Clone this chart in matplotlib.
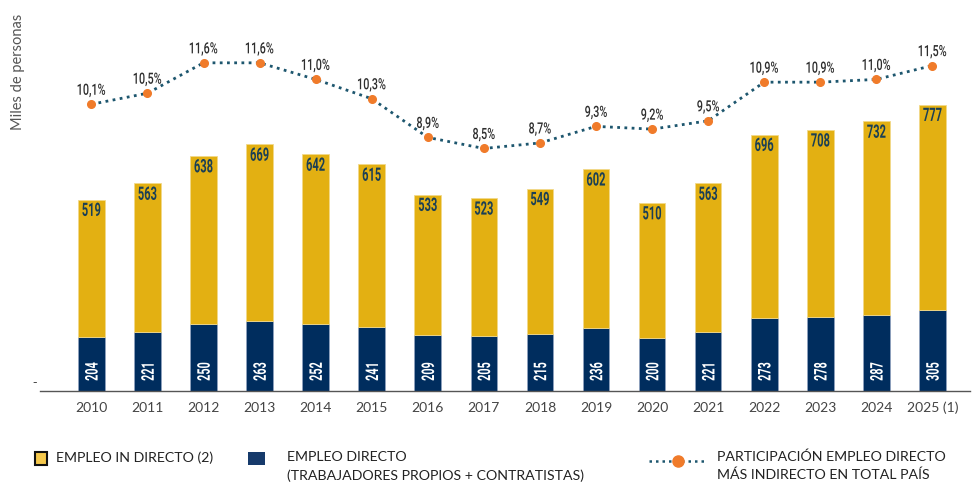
import matplotlib
matplotlib.use("Agg")
import matplotlib.pyplot as plt
from matplotlib.patches import Rectangle, PathPatch
from matplotlib.lines import Line2D
from matplotlib.textpath import TextPath
from matplotlib.font_manager import FontProperties
import matplotlib.transforms as mtransforms
import numpy as np

years = ["2010", "2011", "2012", "2013", "2014", "2015", "2016", "2017",
         "2018", "2019", "2020", "2021", "2022", "2023", "2024", "2025 (1)"]
direct = [204, 221, 250, 263, 252, 241, 209, 205, 215, 236, 200, 221, 273, 278, 287, 305]
indirect = [519, 563, 638, 669, 642, 615, 533, 523, 549, 602, 510, 563, 696, 708, 732, 777]
share = [10.1, 10.5, 11.6, 11.6, 11.0, 10.3, 8.9, 8.5, 8.7, 9.3, 9.2, 9.5, 10.9, 10.9, 11.0, 11.5]
share_labels = ["10,1%", "10,5%", "11,6%", "11,6%", "11,0%", "10,3%", "8,9%", "8,5%",
                "8,7%", "9,3%", "9,2%", "9,5%", "10,9%", "10,9%", "11,0%", "11,5%"]

GOLD = "#E3B012"
NAVY = "#002D5E"
ORANGE = "#F07B2A"
TEAL = "#1D566E"
LABEL_DARK = "#1A3F55"

SANS = ["Lato", "DejaVu Sans"]

W, H = 972, 483
fig = plt.figure(figsize=(W / 100, H / 100), dpi=100)


def fx(px):
    return px / W


def fy(py):
    return 1 - py / H


def narrow_text(axis, xd, yd, s, size_px, sx, color, weight, ha, va,
                dx=0, dy=0, rot=0, zorder=5):
    """Draw condensed text (horizontal squeeze) anchored at a data point."""
    fp = FontProperties(family=["Roboto", "DejaVu Sans"], weight=weight)
    tp = TextPath((0, 0), s, size=size_px, prop=fp)
    ext = tp.get_extents()
    x0, y0 = ext.x0 * sx, ext.y0
    w, h = ext.width * sx, ext.height
    axx = {"left": x0, "center": x0 + w / 2, "right": x0 + w}[ha]
    ayy = {"bottom": y0, "center": y0 + h / 2, "top": y0 + h}[va]
    tr = (mtransforms.Affine2D().scale(sx, 1).translate(-axx, -ayy)
          .rotate_deg(rot).translate(dx, dy)
          + mtransforms.ScaledTranslation(xd, yd, axis.transData))
    patch = PathPatch(tp, transform=tr, facecolor=color, edgecolor="none",
                      zorder=zorder)
    axis.add_artist(patch)


ax_left, ax_right = 40, 970
ax_top, ax_bottom = 20, 390.5
ax = fig.add_axes([fx(ax_left), fy(ax_bottom), fx(ax_right - ax_left),
                   (ax_bottom - ax_top) / H])

x = np.arange(len(years))
bw = 0.476
ax.bar(x, direct, bw, color=NAVY, edgecolor="#8FA2BE", linewidth=0.6, zorder=2)
ax.bar(x, indirect, bw, bottom=direct, color=GOLD, edgecolor="#F2D98A",
       linewidth=0.6, zorder=2)

ax.set_xlim(-0.916, 15.67)
ax.set_ylim(0, 1403)

for i in range(len(years)):
    narrow_text(ax, x[i], direct[i] + indirect[i], str(indirect[i]), 18.5, 0.6,
                LABEL_DARK, "bold", "center", "top", dy=-3)
    narrow_text(ax, x[i], 0, str(direct[i]), 17.5, 0.62, "white", "bold",
                "left", "center", dy=10, rot=90)

for s in ["top", "right", "left"]:
    ax.spines[s].set_visible(False)
ax.spines["bottom"].set_color("#555555")
ax.spines["bottom"].set_linewidth(1.0)

ax.set_xticks(x)
ax.set_xticklabels(years, fontsize=10, color="#444444", family=SANS)
ax.tick_params(axis="x", length=0, pad=8)
ax.set_yticks([])
fig.text(fx(35), fy(383), "-", ha="center", va="center", fontsize=9, color="#444444")

ax2 = ax.twinx()
ax2.set_xlim(ax.get_xlim())
ax2.set_ylim(-0.26, 13.15)
ax2.axis("off")
ax2.plot(x, share, color=TEAL, linestyle=(0, (1, 1.6)), linewidth=2.0, zorder=3)
ax2.plot(x, share, linestyle="none", marker="o", markersize=5.5, color=ORANGE, zorder=5)
for i in range(len(years)):
    narrow_text(ax2, x[i], share[i], share_labels[i], 15.5, 0.7, "#2E2E2E",
                "medium", "center", "bottom", dy=7)

fig.text(fx(18), fy(72), "Miles de personas", rotation=90, ha="center", va="center",
         fontsize=10.5, color="#555555", family=SANS)

# Legend
fig.patches.append(Rectangle((fx(35), fy(465)), fx(11.5), 13 / H, transform=fig.transFigure,
                             facecolor="#F5C84C", edgecolor="#111111", linewidth=1.5))
fig.text(fx(56), fy(458), "EMPLEO IN DIRECTO (2)", ha="left", va="center",
         fontsize=10.2, color="#222222", family=SANS)
fig.patches.append(Rectangle((fx(248), fy(465)), fx(17), 13 / H, transform=fig.transFigure,
                             facecolor="#163A6B", edgecolor="none"))
fig.text(fx(287), fy(457), "EMPLEO DIRECTO", ha="left", va="center",
         fontsize=10.2, color="#222222", family=SANS)
fig.text(fx(287), fy(476), "(TRABAJADORES PROPIOS + CONTRATISTAS)", ha="left", va="center",
         fontsize=10.2, color="#222222", family=SANS)
fig.lines.append(Line2D([fx(649), fx(707)], [fy(461), fy(461)], transform=fig.transFigure,
                        color=TEAL, linestyle=(0, (1, 1.6)), linewidth=1.8))
fig.lines.append(Line2D([fx(678)], [fy(461)], transform=fig.transFigure, marker="o",
                        markersize=8, color=ORANGE, linestyle="none"))
fig.text(fx(717), fy(456.5), "PARTICIPACIÓN EMPLEO DIRECTO", ha="left", va="center",
         fontsize=10.2, color="#222222", family=SANS)
fig.text(fx(717), fy(475), "MÁS INDIRECTO EN TOTAL PAÍS", ha="left", va="center",
         fontsize=10.2, color="#222222", family=SANS)

fig.savefig("out.png", dpi=100)
